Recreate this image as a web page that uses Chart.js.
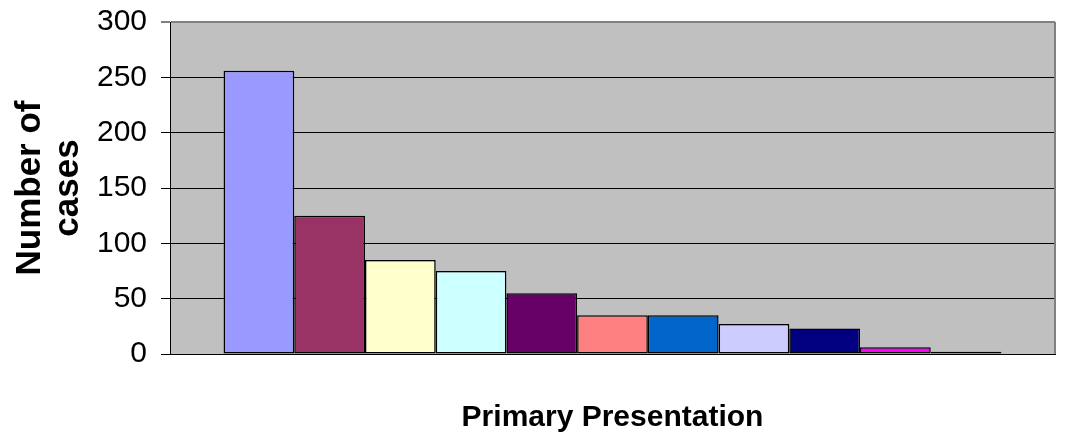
<!DOCTYPE html>
<html>
<head>
<meta charset="utf-8">
<script src="https://cdn.jsdelivr.net/npm/chart.js@4/dist/chart.umd.min.js"></script>
<style>
  body { margin: 0; background: #fff; }
</style>
</head>
<body>
<canvas id="myChart" width="1065" height="437"></canvas>
<script>
"use strict"
// one category, each presentation type is its own series (no legend in the picture)
let category = [''];
let seriesNames = ['Type 1', 'Type 2', 'Type 3', 'Type 4', 'Type 5', 'Type 6',
    'Type 7', 'Type 8', 'Type 9', 'Type 10', 'Type 11'];
let seriesValues = [256, 125, 85, 75, 55, 35, 35, 27, 23, 6, 2];
let seriesColors = ['#9999FF', '#993366', '#FFFFCC', '#CCFFFF', '#660066', '#FF8080',
    '#0066CC', '#CCCCFF', '#000080', '#FF00FF', '#FFFF00'];
let yTicks = [0, 50, 100, 150, 200, 250, 300];

let fontFam = "'Liberation Sans', Arial, sans-serif";

let datasets = [];
for (let i = 0; i < seriesNames.length; i++) {
    datasets.push({
        label: seriesNames[i],
        data: [seriesValues[i]],
        backgroundColor: seriesColors[i],
        borderColor: '#000000',
        borderWidth: 1.5,
        borderSkipped: false
    });
}

let plotBg = {
    id: 'plotBg',
    beforeDraw(chart) {
        let a = chart.chartArea;
        let ctx = chart.ctx;
        ctx.save();
        ctx.fillStyle = '#C0C0C0';
        ctx.fillRect(a.left, a.top, a.right - a.left, a.bottom - a.top);
        ctx.restore();
    },
    afterDraw(chart) {
        let a = chart.chartArea;
        let ctx = chart.ctx;
        ctx.save();
        ctx.strokeStyle = '#808080';
        ctx.lineWidth = 2;
        ctx.beginPath();
        ctx.moveTo(a.right, a.top);
        ctx.lineTo(a.right, a.bottom);
        ctx.stroke();
        ctx.restore();
    }
};

let ctx = document.getElementById('myChart').getContext('2d');
let myChart = new Chart(ctx, {
    type: 'bar',
    data: {
        labels: category,
        datasets: datasets
    },
    plugins: [plotBg],
    options: {
        responsive: false,
        animation: false,
        layout: {
            padding: { top: 22, right: 10, bottom: 0, left: 0 }
        },
        datasets: {
            bar: {
                categoryPercentage: 0.879,
                barPercentage: 1
            }
        },
        plugins: {
            legend: { display: false },
            tooltip: { enabled: false }
        },
        scales: {
            x: {
                ticks: { display: false },
                grid: { display: false },
                border: { display: true, color: '#000000', width: 1 },
                title: {
                    display: true,
                    text: 'Primary Presentation',
                    color: '#000000',
                    font: { family: fontFam, size: 30, weight: 'bold' },
                    padding: { top: 0, bottom: 1 }
                },
                afterFit(scale) {
                    scale.height = 83;
                }
            },
            y: {
                min: 0,
                max: 300,
                afterBuildTicks(scale) {
                    scale.ticks = yTicks.map(v => ({ value: v }));
                },
                ticks: {
                    color: '#000000',
                    padding: 14,
                    font: { family: fontFam, size: 30 }
                },
                grid: {
                    color: c => (c.tick && c.tick.value === 300 ? '#808080' : '#000000'),
                    lineWidth: c => (c.tick && c.tick.value === 300 ? 2 : 1),
                    tickLength: 9,
                    drawTicks: true
                },
                border: { display: true, color: '#000000', width: 1 },
                title: {
                    display: true,
                    text: ['Number of', 'cases'],
                    color: '#000000',
                    font: { family: fontFam, size: 35, weight: 'bold', lineHeight: 1.1 },
                    padding: { top: 11, bottom: 0 }
                },
                afterFit(scale) {
                    scale.width = 170;
                    // tick padding should not push the plot down
                    scale.paddingTop = 0;
                    scale.paddingBottom = 0;
                }
            }
        }
    }
});
</script>
</body>
</html>
